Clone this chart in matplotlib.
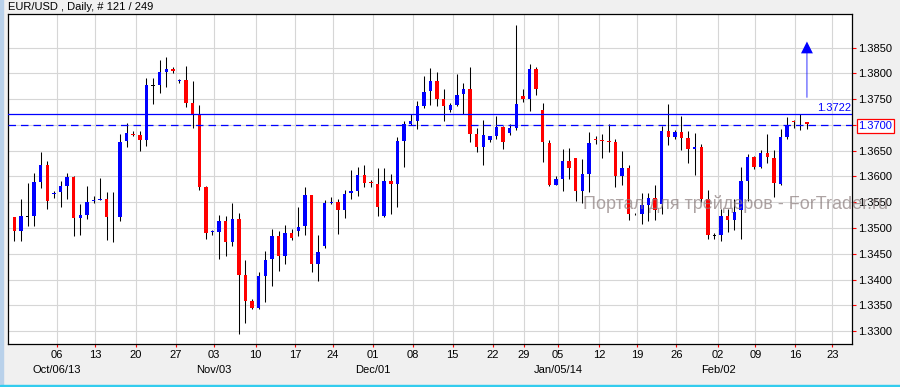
import matplotlib.pyplot as plt
from matplotlib.patches import Rectangle
from matplotlib.transforms import blended_transform_factory

plt.rcParams['font.family'] = ['Liberation Sans', 'DejaVu Sans']

# EUR/USD daily bars, Oct 2013 - Feb 2014 (121 bars shown)
opens = [
    1.3521, 1.3495, 1.3522, 1.3524, 1.3590, 1.3622, 1.3566, 1.3569, 1.3582, 1.3599,
    1.3520, 1.3526, 1.3552, 1.3555, 1.3556, 1.3521, 1.3522, 1.3668, 1.3683, 1.3680,
    1.3671, 1.3777, 1.3778, 1.3803, 1.3809, 1.3786, 1.3787, 1.3743, 1.3722, 1.3580,
    1.3493, 1.3493, 1.3514, 1.3472, 1.3517, 1.3409, 1.3358, 1.3345, 1.3407, 1.3439,
    1.3484, 1.3446, 1.3490, 1.3494, 1.3503, 1.3564, 1.3431, 1.3465, 1.3549, 1.3551,
    1.3534, 1.3567, 1.3572, 1.3603, 1.3589, 1.3586, 1.3523, 1.3591, 1.3586, 1.3669,
    1.3702, 1.3708, 1.3737, 1.3765, 1.3786, 1.3750, 1.3730, 1.3739, 1.3760, 1.3770,
    1.3682, 1.3657, 1.3671, 1.3679, 1.3696, 1.3685, 1.3695, 1.3757, 1.3751, 1.3809,
    1.3730, 1.3665, 1.3584, 1.3596, 1.3630, 1.3635, 1.3572, 1.3605, 1.3673, 1.3671,
    1.3669, 1.3667, 1.3600, 1.3616, 1.3527, 1.3528, 1.3545, 1.3558, 1.3547, 1.3688,
    1.3677, 1.3686, 1.3675, 1.3654, 1.3657, 1.3556, 1.3486, 1.3486, 1.3523, 1.3516,
    1.3534, 1.3591, 1.3637, 1.3619, 1.3646, 1.3636, 1.3586, 1.3677, 1.3708, 1.3702,
    1.3705,
]
highs = [
    1.3522, 1.3556, 1.3588, 1.3607, 1.3648, 1.3631, 1.3572, 1.3591, 1.3607, 1.3601,
    1.3547, 1.3582, 1.3562, 1.3597, 1.3570, 1.3569, 1.3682, 1.3703, 1.3688, 1.3688,
    1.3791, 1.3792, 1.3826, 1.3832, 1.3813, 1.3790, 1.3814, 1.3786, 1.3739, 1.3582,
    1.3497, 1.3525, 1.3523, 1.3549, 1.3530, 1.3438, 1.3362, 1.3415, 1.3456, 1.3499,
    1.3495, 1.3505, 1.3499, 1.3541, 1.3580, 1.3565, 1.3486, 1.3554, 1.3560, 1.3556,
    1.3573, 1.3613, 1.3619, 1.3623, 1.3593, 1.3616, 1.3616, 1.3605, 1.3677, 1.3708,
    1.3722, 1.3747, 1.3795, 1.3810, 1.3803, 1.3770, 1.3743, 1.3799, 1.3781, 1.3812,
    1.3694, 1.3710, 1.3679, 1.3717, 1.3698, 1.3702, 1.3894, 1.3770, 1.3818, 1.3813,
    1.3743, 1.3671, 1.3601, 1.3654, 1.3656, 1.3636, 1.3633, 1.3686, 1.3679, 1.3682,
    1.3702, 1.3673, 1.3649, 1.3622, 1.3530, 1.3568, 1.3568, 1.3583, 1.3698, 1.3740,
    1.3690, 1.3717, 1.3688, 1.3685, 1.3663, 1.3574, 1.3491, 1.3536, 1.3537, 1.3556,
    1.3619, 1.3643, 1.3640, 1.3651, 1.3682, 1.3651, 1.3692, 1.3716, 1.3710, 1.3722,
    1.3706,
]
lows = [
    1.3475, 1.3475, 1.3503, 1.3503, 1.3578, 1.3537, 1.3559, 1.3541, 1.3557, 1.3485,
    1.3486, 1.3518, 1.3549, 1.3554, 1.3477, 1.3472, 1.3514, 1.3658, 1.3679, 1.3650,
    1.3660, 1.3741, 1.3763, 1.3774, 1.3800, 1.3781, 1.3734, 1.3695, 1.3573, 1.3478,
    1.3486, 1.3440, 1.3446, 1.3466, 1.3294, 1.3316, 1.3343, 1.3343, 1.3357, 1.3388,
    1.3417, 1.3431, 1.3477, 1.3485, 1.3487, 1.3414, 1.3398, 1.3462, 1.3547, 1.3489,
    1.3520, 1.3557, 1.3563, 1.3580, 1.3580, 1.3523, 1.3522, 1.3527, 1.3541, 1.3619,
    1.3699, 1.3693, 1.3732, 1.3739, 1.3737, 1.3708, 1.3726, 1.3736, 1.3722, 1.3666,
    1.3648, 1.3623, 1.3666, 1.3672, 1.3654, 1.3680, 1.3690, 1.3745, 1.3728, 1.3759,
    1.3629, 1.3582, 1.3583, 1.3571, 1.3596, 1.3553, 1.3548, 1.3569, 1.3664, 1.3635,
    1.3648, 1.3580, 1.3583, 1.3516, 1.3525, 1.3507, 1.3514, 1.3516, 1.3528, 1.3661,
    1.3673, 1.3651, 1.3627, 1.3602, 1.3550, 1.3478, 1.3479, 1.3475, 1.3492, 1.3497,
    1.3479, 1.3552, 1.3615, 1.3616, 1.3627, 1.3561, 1.3584, 1.3673, 1.3695, 1.3690,
    1.3693,
]
closes = [
    1.3495, 1.3523, 1.3522, 1.3589, 1.3622, 1.3552, 1.3568, 1.3582, 1.3599, 1.3520,
    1.3525, 1.3550, 1.3554, 1.3556, 1.3522, 1.3521, 1.3667, 1.3684, 1.3681, 1.3671,
    1.3778, 1.3777, 1.3803, 1.3809, 1.3805, 1.3787, 1.3743, 1.3722, 1.3580, 1.3491,
    1.3494, 1.3514, 1.3472, 1.3517, 1.3409, 1.3359, 1.3345, 1.3407, 1.3438, 1.3484,
    1.3446, 1.3490, 1.3481, 1.3502, 1.3564, 1.3431, 1.3453, 1.3549, 1.3550, 1.3534,
    1.3566, 1.3572, 1.3603, 1.3587, 1.3587, 1.3541, 1.3591, 1.3586, 1.3669, 1.3702,
    1.3708, 1.3737, 1.3764, 1.3786, 1.3750, 1.3737, 1.3739, 1.3759, 1.3770, 1.3683,
    1.3657, 1.3680, 1.3679, 1.3696, 1.3666, 1.3694, 1.3741, 1.3750, 1.3809, 1.3769,
    1.3666, 1.3583, 1.3595, 1.3630, 1.3617, 1.3572, 1.3605, 1.3665, 1.3671, 1.3669,
    1.3667, 1.3600, 1.3616, 1.3528, 1.3527, 1.3545, 1.3559, 1.3534, 1.3689, 1.3677,
    1.3686, 1.3675, 1.3654, 1.3657, 1.3556, 1.3486, 1.3486, 1.3523, 1.3516, 1.3532,
    1.3591, 1.3638, 1.3619, 1.3646, 1.3637, 1.3588, 1.3677, 1.3698, 1.3706, 1.3702,
    1.3702,
]

# date ticks, placed at the (fractional) bar where each Sunday falls
tick_bar = [6.42, 12.26, 18.37, 24.42, 30.27, 36.53, 42.48, 48.23, 54.33, 60.38,
            66.34, 72.49, 77.13, 82.32, 88.53, 94.28, 100.24, 106.54, 112.19,
            118.25, 123.85]
tick_day = ['06', '13', '20', '27', '03', '10', '17', '24', '01', '08', '15',
            '22', '29', '05', '12', '19', '26', '02', '09', '16', '23']
month_tick = [0, 4, 8, 13, 17]
month_text = ['Oct/06/13', 'Nov/03', 'Dec/01', 'Jan/05/14', 'Feb/02']

price_ticks = [1.3300, 1.3350, 1.3400, 1.3450, 1.3500, 1.3550, 1.3600,
               1.3650, 1.3700, 1.3750, 1.3800, 1.3850]

level_line = 1.3722
bid_line = 1.3700
signal_bar = 120
signal_from = 1.3753
signal_to = 1.3862

UP = '#0000ff'
DOWN = '#ff0000'

fig = plt.figure(figsize=(9, 3.87), dpi=100, facecolor='#f0f0f0')
ax = fig.add_axes([8 / 900, 43 / 387, 844 / 900, 330 / 387])
ax.set_facecolor('white')

xs = list(range(len(opens)))
ax.vlines(xs, lows, highs, color='black', lw=0.75, zorder=2)

min_h = 0.00012
for x, o, c in zip(xs, opens, closes):
    if c > o:
        col = UP
    elif c < o:
        col = DOWN
    else:
        col = 'black'
    h = max(abs(c - o), min_h)
    bottom = min(o, c) if abs(c - o) >= min_h else (o + c) / 2 - min_h / 2
    ax.bar(x, h, bottom=bottom, width=0.52, color=col, lw=0, zorder=3)

ax.axhline(level_line, color='#0000ff', lw=0.9, zorder=4)
ax.axhline(bid_line, color='#0000ff', lw=0.9, ls=(0, (6, 4)), zorder=4)

ax.arrow(signal_bar, signal_from, 0, signal_to - signal_from, width=0.12,
         head_width=1.8, head_length=0.0023, length_includes_head=True,
         color='#0000ff', lw=0, zorder=5)

ax.set_xlim(-0.953, 126.82)
ax.set_ylim(1.32748, 1.39154)

ax.set_xticks(tick_bar, tick_day)
ax.set_yticks(price_ticks, ['%.4f' % p for p in price_ticks])
ax.yaxis.tick_right()
ax.tick_params(axis='both', colors='#ff0000', labelcolor='black', labelsize=8,
               direction='out', width=0.8)
ax.tick_params(axis='y', length=3, pad=1.5)
ax.tick_params(axis='x', length=2.5, pad=2)
ax.grid(True, color='#d6d6d6', lw=0.8, zorder=0)
ax.set_axisbelow(True)
for s in ax.spines.values():
    s.set_color('black')
    s.set_linewidth(0.9)

for lab in ax.get_yticklabels():
    if lab.get_text() == '%.4f' % bid_line:
        lab.set_color('#0000ff')
        lab.set_bbox(dict(boxstyle='square,pad=0.15', fc='white', ec='#ff0000', lw=0.9))

tr = blended_transform_factory(ax.transData, ax.transAxes)
for i, txt in zip(month_tick, month_text):
    ax.text(tick_bar[i], -0.079, txt, transform=tr, ha='center', va='center',
            fontsize=8, clip_on=False)

tr2 = blended_transform_factory(ax.transAxes, ax.transData)
ax.text(0.9985, level_line + 0.0002, '%.4f' % level_line, transform=tr2,
        ha='right', va='bottom', fontsize=8, color='#0000ff')

fig.text(8 / 900, 1 - 7 / 387, 'EUR/USD , Daily, # 121 / 249', ha='left',
         va='center', fontsize=8)

# watermark drawn over the plot, as in the original terminal screenshot
fig.text(583 / 900, 1 - 204 / 387, 'Портал для трейдеров - ForTrader.ru',
         ha='left', va='center', fontsize=13, color='#8a7c7c', alpha=0.7)

fig.patches.append(Rectangle((0, 2 / 387), 3 / 900, 1, transform=fig.transFigure,
                             color='#b9d1ea', zorder=0))
fig.patches.append(Rectangle((0, 0), 1, 2 / 387, transform=fig.transFigure,
                             color='#33ccee', zorder=0))

fig.savefig('out.png', dpi=100, facecolor=fig.get_facecolor())
